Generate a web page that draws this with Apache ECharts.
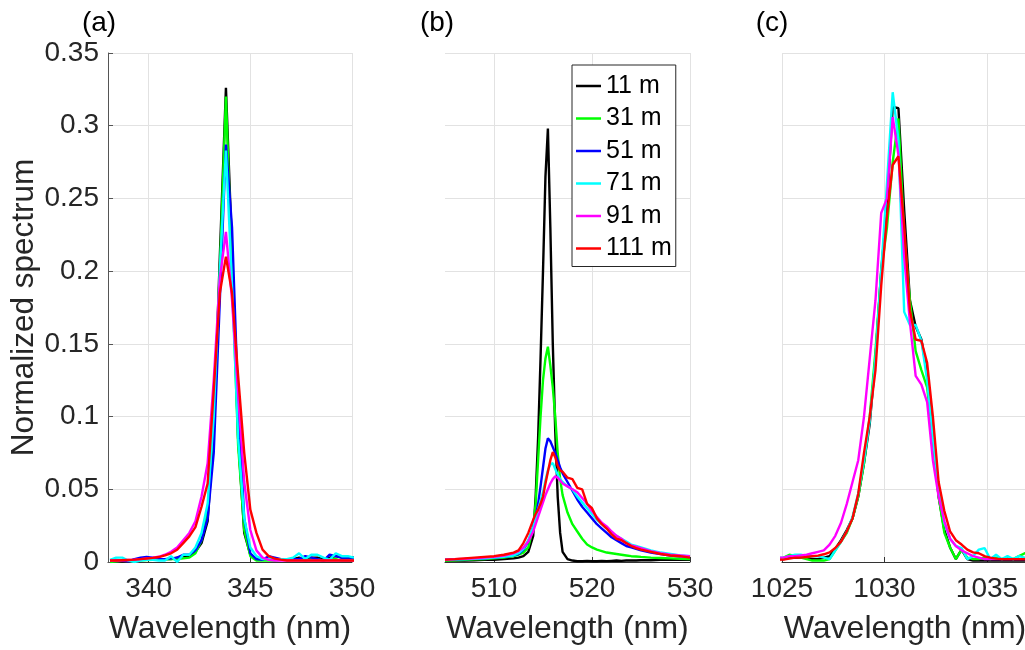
<!DOCTYPE html>
<html><head><meta charset="utf-8">
<script src="https://cdn.jsdelivr.net/npm/echarts@6/dist/echarts.min.js"></script>
<style>html,body{margin:0;padding:0;background:#fff}#chart{width:1025px;height:650px}</style>
</head><body><div id="chart"></div>
<script>
const seriesNames = ['11 m','31 m','51 m','71 m','91 m','111 m'];
const seriesColors = ['#000000','#00ff00','#0000ff','#00ffff','#ff00ff','#ff0000'];
const panelLabels = ['(a)','(b)','(c)'];
const yTicks = [0,0.05,0.1,0.15,0.2,0.25,0.3,0.35];
const ticksA = [340,345,350];
const ticksB = [510,520,530];
const ticksC = [1025,1030,1035];

// Panel (a) wavelengths (nm)
const wlA = [338.1,338.4,338.7,339.0,339.3,339.6,339.9,340.2,340.5,340.8,341.1,341.4,341.7,342.0,342.3,342.6,342.9,343.2,343.5,343.8,344.1,344.4,344.7,345.0,345.3,345.6,345.9,346.2,346.5,346.8,347.1,347.4,347.7,348.0,348.3,348.6,348.9,349.2,349.5,349.8,350.1];
const a11 = [0.001,0.001,0.0005,0.001,0.0015,0.002,0.0025,0.002,0.0015,0.002,0.002,0.003,0.004,0.004,0.007,0.013,0.028,0.09,0.21,0.326,0.215,0.085,0.02,0.005,0.002,0.0015,0.002,0.002,0.0015,0.002,0.002,0.003,0.002,0.003,0.003,0.002,0.003,0.004,0.003,0.003,0.003];
const a31 = [0,0.0005,0.001,0.001,0.001,0.0012,0.0014,0.0015,0.0016,0.0018,0.002,0.002,0.0025,0.003,0.006,0.015,0.035,0.1,0.2,0.32,0.2,0.08,0.022,0.004,0.001,0.001,0.001,0.001,0.0015,0.0015,0.002,0.002,0.001,0.002,0.002,0.001,0.002,0.002,0.001,0.001,0.001];
const a51 = [0.001,0.0015,0.001,0.0005,0.002,0.003,0.0035,0.003,0.002,0.002,0.0025,0.003,0.005,0.005,0.008,0.015,0.03,0.075,0.18,0.287,0.23,0.11,0.03,0.006,0.002,0.0015,0.004,0.003,0.002,0.002,0.002,0.002,0.004,0.003,0.002,0.001,0.005,0.004,0.003,0.003,0.003];
const a71 = [0.0015,0.003,0.003,0.001,0,0.001,0.0015,0.0015,0.001,0.001,0.004,0,0.005,0.005,0.01,0.02,0.04,0.1,0.2,0.283,0.19,0.085,0.03,0.01,0.004,0.002,0.002,0.002,0.002,0.002,0.003,0.006,0.002,0.005,0.005,0.003,0.0015,0.006,0.004,0.004,0.003];
const a91 = [0.001,0.001,0.0012,0.0014,0.0016,0.002,0.0025,0.003,0.0036,0.005,0.007,0.01,0.015,0.02,0.028,0.045,0.068,0.125,0.195,0.227,0.18,0.115,0.055,0.022,0.008,0.003,0.0015,0.001,0.001,0.001,0.001,0.001,0.001,0.001,0.001,0.001,0.001,0.001,0.001,0.001,0.001];
const a111 = [0.001,0.001,0.0012,0.0014,0.0016,0.002,0.0024,0.0028,0.0034,0.0046,0.006,0.0084,0.013,0.0176,0.024,0.038,0.054,0.118,0.185,0.21,0.185,0.128,0.075,0.036,0.02,0.0085,0.004,0.0023,0.0016,0.001,0.001,0.001,0.001,0.001,0.001,0.001,0.001,0.001,0.001,0.001,0.001];

// Panel (b) wavelengths (nm)
const wlB = [505,506,507,508,509,510,511,512,512.5,513,513.5,514,514.25,514.5,514.75,515,515.25,515.5,515.75,516,516.25,516.5,516.75,517,517.5,518,518.5,519,519.5,520,520.5,521,521.5,522,522.5,523,523.5,524,524.5,525,526,527,528,529,530];
const b11 = [0.001,0.001,0.001,0.0012,0.0015,0.0015,0.002,0.0025,0.003,0.004,0.007,0.018,0.045,0.085,0.14,0.2,0.265,0.298,0.23,0.15,0.09,0.045,0.02,0.007,0.002,0.001,0.0005,0.0005,0.0008,0.0005,0.0005,0.0008,0.0006,0.0008,0.001,0.0008,0.001,0.001,0.001,0.0012,0.0012,0.0015,0.0015,0.0015,0.0015];
const b31 = [0.001,0.0012,0.0015,0.0018,0.002,0.0025,0.003,0.004,0.005,0.0065,0.01,0.024,0.04,0.07,0.1,0.125,0.14,0.148,0.135,0.12,0.1,0.075,0.057,0.046,0.034,0.026,0.021,0.016,0.012,0.01,0.0085,0.0075,0.0065,0.006,0.0055,0.005,0.0045,0.004,0.0038,0.0035,0.003,0.0028,0.0025,0.0022,0.002];
const b51 = [0.0015,0.0018,0.002,0.0022,0.0025,0.003,0.0035,0.0045,0.0055,0.0085,0.014,0.024,0.031,0.04,0.052,0.065,0.078,0.085,0.083,0.079,0.075,0.07,0.065,0.061,0.055,0.049,0.043,0.038,0.034,0.03,0.026,0.023,0.02,0.017,0.015,0.013,0.011,0.01,0.009,0.008,0.0065,0.0055,0.0045,0.004,0.0035];
const b71 = [0.0015,0.0018,0.002,0.0022,0.0025,0.003,0.0035,0.0045,0.006,0.009,0.015,0.024,0.03,0.036,0.042,0.048,0.056,0.063,0.067,0.068,0.064,0.06,0.057,0.055,0.052,0.05,0.045,0.041,0.037,0.033,0.029,0.026,0.023,0.02,0.018,0.016,0.014,0.012,0.011,0.01,0.008,0.0065,0.0055,0.0045,0.004];
const b91 = [0.0015,0.002,0.0022,0.0025,0.003,0.0035,0.0045,0.006,0.0075,0.01,0.014,0.021,0.026,0.031,0.036,0.041,0.046,0.05,0.054,0.057,0.059,0.058,0.056,0.054,0.052,0.05,0.048,0.044,0.04,0.035,0.031,0.027,0.0245,0.021,0.018,0.016,0.013,0.0115,0.0105,0.0095,0.0075,0.006,0.005,0.0045,0.004];
const b111 = [0.0016,0.002,0.0025,0.003,0.0035,0.004,0.005,0.0065,0.008,0.013,0.02,0.029,0.033,0.036,0.04,0.045,0.054,0.062,0.07,0.0756,0.072,0.066,0.063,0.062,0.058,0.057,0.051,0.05,0.04,0.037,0.03,0.026,0.023,0.019,0.016,0.015,0.013,0.011,0.0095,0.0085,0.007,0.0055,0.0045,0.004,0.003];

// Panel (c) wavelengths (nm)
const wlC = [1024.8,1025.08,1025.36,1025.64,1025.92,1026.2,1026.48,1026.76,1027.04,1027.32,1027.6,1027.88,1028.16,1028.44,1028.72,1029.0,1029.28,1029.56,1029.84,1030.12,1030.4,1030.68,1030.96,1031.24,1031.52,1031.8,1032.08,1032.36,1032.64,1032.92,1033.2,1033.48,1033.76,1034.04,1034.32,1034.6,1034.88,1035.16,1035.44,1035.72,1036.0,1036.28,1036.56,1036.84,1037.12];
const c11 = [0.002,0.002,0.003,0.003,0.003,0.003,0.002,0.002,0.003,0.004,0.009,0.015,0.022,0.03,0.045,0.068,0.095,0.14,0.2,0.245,0.313,0.312,0.242,0.18,0.162,0.153,0.13,0.085,0.045,0.022,0.01,0.002,0.0085,0.002,0.001,0.001,0.001,0.001,0.001,0.001,0.001,0.001,0.001,0.001,0.001];
const c31 = [0.002,0.003,0.005,0.004,0.003,0.002,0.001,0.001,0.001,0.002,0.008,0.014,0.02,0.03,0.045,0.068,0.1,0.145,0.2,0.23,0.275,0.305,0.225,0.18,0.145,0.132,0.12,0.085,0.045,0.02,0.01,0.002,0.0085,0.003,0.002,0.002,0.003,0.002,0.003,0.002,0.003,0.002,0.004,0.006,0.007];
const c71 = [0.003,0.003,0.004,0.005,0.005,0.004,0.004,0.004,0.003,0.002,0.008,0.014,0.021,0.031,0.047,0.07,0.097,0.14,0.2,0.26,0.323,0.29,0.172,0.163,0.163,0.152,0.125,0.085,0.05,0.027,0.016,0.011,0.0096,0.002,0.004,0.0085,0.0096,0.002,0.005,0.002,0.004,0.002,0.004,0.003,0.003];
const c91 = [0.003,0.003,0.004,0.004,0.0045,0.005,0.006,0.007,0.008,0.012,0.018,0.027,0.04,0.055,0.07,0.1,0.14,0.18,0.24,0.25,0.306,0.28,0.21,0.165,0.128,0.122,0.11,0.07,0.045,0.028,0.016,0.011,0.008,0.006,0.004,0.003,0.002,0.002,0.002,0.002,0.002,0.002,0.002,0.002,0.002];
const c111 = [0.0016,0.0016,0.0023,0.003,0.003,0.0034,0.004,0.0044,0.0053,0.0066,0.0096,0.014,0.021,0.03,0.047,0.075,0.1,0.132,0.19,0.238,0.273,0.279,0.231,0.173,0.153,0.152,0.137,0.1,0.055,0.035,0.021,0.015,0.012,0.0085,0.0066,0.006,0.004,0.003,0.0023,0.002,0.002,0.002,0.002,0.002,0.002];

const FONT = '"Liberation Sans", Arial, Helvetica, sans-serif';
const TXT = '#262626';
const LW = 2.4;

function pairs(wl, vals) { return wl.map((x, i) => [x, vals[i]]); }
function mkSeries(gi, wl, valsList) {
  const out = [];
  valsList.forEach((vals, k) => {
    if (!vals) return;
    out.push({
      name: seriesNames[k], type: 'line', xAxisIndex: gi, yAxisIndex: gi,
      data: pairs(wl, vals), symbol: 'none', showSymbol: false,
      lineStyle: { width: LW, color: seriesColors[k] }, itemStyle: { color: seriesColors[k] },
      clip: true, animation: false, z: 2 + k
    });
  });
  return out;
}

const grids = [
  { left: 108, top: 53, width: 244, height: 509 },
  { left: 445, top: 53, width: 245, height: 509 },
  { left: 782, top: 53, width: 246, height: 509 }
].map(g => Object.assign({ containLabel: false, outerBoundsMode: 'none' }, g));

const ranges = [[338, 350, ticksA], [505, 530, ticksB], [1025, 1037, ticksC]];
const splitStyle = { show: true, lineStyle: { color: '#e2e2e2', width: 1 } };

const xAxes = ranges.map((r, i) => ({
  type: 'value', gridIndex: i, min: r[0], max: r[1],
  axisLine: { show: true, onZero: false, lineStyle: { color: '#333333', width: 1 } },
  axisTick: { show: true, inside: true, length: 5, customValues: r[2], lineStyle: { color: '#333333' } },
  axisLabel: { show: true, customValues: r[2], margin: 13, fontSize: 28, color: TXT, fontFamily: FONT,
    hideOverlap: false, formatter: v => String(v) },
  splitLine: splitStyle,
  name: 'Wavelength (nm)', nameLocation: 'middle', nameGap: 51,
  nameTextStyle: { fontSize: 32, color: TXT, fontFamily: FONT }
}));

const yAxes = [0, 1, 2].map(i => ({
  type: 'value', gridIndex: i, min: 0, max: 0.35, interval: 0.05,
  axisLine: { show: i === 0, lineStyle: { color: '#555555', width: 1 } },
  axisTick: { show: i === 0, inside: true, length: 5, lineStyle: { color: '#555555' } },
  axisLabel: { show: i === 0, margin: 9, fontSize: 28, color: TXT, fontFamily: FONT,
    formatter: v => String(Math.round(v * 100) / 100) },
  splitLine: splitStyle,
  name: i === 0 ? 'Normalized spectrum' : '', nameLocation: 'middle', nameGap: 68,
  nameTextStyle: { fontSize: 31.5, color: TXT, fontFamily: FONT }
}));

const series = [].concat(
  mkSeries(0, wlA, [a11, a31, a51, a71, a91, a111]),
  mkSeries(1, wlB, [b11, b31, b51, b71, b91, b111]),
  mkSeries(2, wlC, [c11, c31, null, c71, c91, c111])
);

const labelX = [99, 437, 772];
const graphics = panelLabels.map((t, i) => ({
  type: 'text', x: labelX[i], y: 23,
  style: { text: t, fontSize: 28, fill: '#000', fontFamily: FONT, textAlign: 'center', textVerticalAlign: 'middle' }
}));

const chart = echarts.init(document.getElementById('chart'), null, { renderer: 'canvas' });
chart.setOption({
  animation: false,
  backgroundColor: '#ffffff',
  grid: grids, xAxis: xAxes, yAxis: yAxes, series: series,
  graphic: graphics,
  legend: {
    data: seriesNames, orient: 'vertical', left: 572, top: 65,
    icon: 'rect', itemWidth: 25, itemHeight: 2.5, itemGap: 6.5,
    padding: [8, 4, 5, 4],
    borderColor: '#262626', borderWidth: 1, backgroundColor: '#ffffff',
    textStyle: { fontSize: 25, lineHeight: 26, color: '#000', fontFamily: FONT },
    selectedMode: false
  },
  tooltip: { show: false }
});
</script></body></html>
